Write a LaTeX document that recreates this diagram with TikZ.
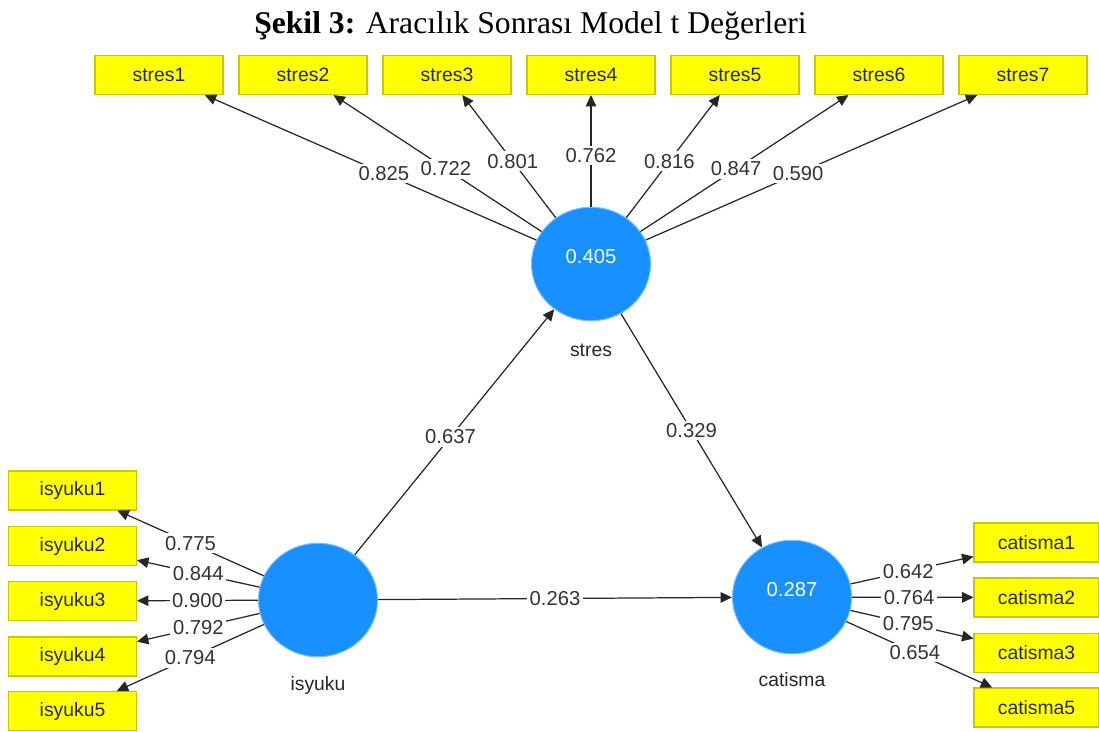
\documentclass[tikz,border=0pt]{standalone}
\usepackage{fontspec}
\setmainfont{Liberation Serif}
\setsansfont{Liberation Sans}
\usetikzlibrary{arrows.meta, positioning, shapes.geometric}
\usepackage{xcolor}
\definecolor{plsblue}{RGB}{24,144,255}
\definecolor{boxyellow}{RGB}{255,255,0}
\definecolor{boxedge}{RGB}{200,200,0}

\begin{document}
\begin{tikzpicture}[x=0.02cm, y=-0.02cm,
    latent/.style={ellipse, fill=plsblue, draw=plsblue!60, line width=0.6pt, minimum width=2.38cm, minimum height=2.27cm,
      inner sep=0pt},
    lvval/.style={text=white, yshift=4pt, font=\sffamily\fontsize{11.5}{13}\selectfont},
    indbox/.style={rectangle, fill=boxyellow, draw=boxedge, line width=0.6pt, minimum width=2.56cm, minimum height=0.78cm,
      inner sep=0pt, text=black!85, font=\sffamily\fontsize{11}{13}\selectfont},
    load/.style={draw=black!85, line width=0.7pt, -{Triangle[length=6.5pt, width=6pt]}},
    coef/.style={fill=white, inner sep=1.5pt, text=black!80, font=\sffamily\fontsize{11.5}{13}\selectfont},
    lvname/.style={text=black!85, font=\sffamily\fontsize{11}{13}\selectfont}]
  \useasboundingbox (0,0) rectangle (1099,731);

  % title
  \node[anchor=base, font=\fontsize{18}{20}\selectfont] (title) at (530.5,33)
    {\textbf{Şekil 3:} Aracılık Sonrası Model t Değerleri};

  % latent variables
  \node[latent, label={[lvval]center:0.405}] (stres) at (591,264) {};
  \node[latent] (isyuku) at (318,600) {};
  \node[latent, label={[lvval]center:0.287}] (catisma) at (792,597) {};
  \node[lvname] (stres-name) at (591,350) {stres};
  \node[lvname] (isyuku-name) at (318,685) {isyuku};
  \node[lvname] (catisma-name) at (792,680) {catisma};

  % indicators of stres
  \foreach \i/\x/\v in {1/159/0.825, 2/303/0.722, 3/447/0.801, 4/591/0.762, 5/735/0.816, 6/879/0.847, 7/1023/0.590} {
      \node[indbox] (stres\i) at (\x,75) {stres\i};
      \draw[load] (stres) -- node[coef, pos=0.46] {\v} (stres\i);
    }

  % indicators of isyuku
  \foreach \i/\y/\v in {1/490.5/0.775, 2/546/0.844, 3/601/0.900, 4/656.5/0.792, 5/711/0.794} {
      \node[indbox] (isyuku\i) at (72.5,\y) {isyuku\i};
      \draw[load] (isyuku) -- node[coef, pos=0.5] {\v} (isyuku\i);
    }

  % indicators of catisma
  \foreach \i/\y/\v in {1/542.5/0.642, 2/597.5/0.764, 3/653/0.795, 5/707.5/0.654} {
      \node[indbox, minimum width=2.5cm] (catisma\i) at (1036.5,\y) {catisma\i};
      \draw[load] (catisma) -- node[coef, pos=0.47] {\v} (catisma\i);
    }

  % paths
  \draw[load] (isyuku) -- node[coef, pos=0.48] {0.637} (stres);
  \draw[load] (stres) -- node[coef] {0.329} (catisma);
  \draw[load] (isyuku) -- node[coef] {0.263} (catisma);
\end{tikzpicture}
\end{document}
